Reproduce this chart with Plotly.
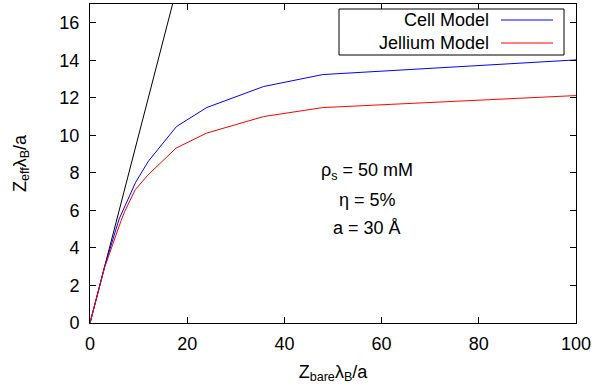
import plotly.graph_objects as go

# Data
x_ref = [0, 17]
y_ref = [0, 17]

x_cell = [0, 3, 6, 9.4, 12, 17.8, 24, 35.7, 47.9, 100]
y_cell = [0, 3.0, 5.55, 7.5, 8.62, 10.47, 11.48, 12.6, 13.24, 14.02]

x_jel = [0, 3, 6.4, 7.1, 9.3, 11.9, 17.7, 24, 35.7, 47.9, 100]
y_jel = [0, 2.95, 5.46, 5.92, 7.1, 7.88, 9.32, 10.12, 11.0, 11.48, 12.12]

legend_names = ["Cell Model", "Jellium Model"]
legend_colors = ["#0000ff", "#ff0000"]

annot_lines = ["ρ<sub>s</sub> = 50 mM", "η = 5%", "a = 30 Å"]
annot_y = [8.05, 6.55, 5.05]

FONT = "Liberation Sans"
FS = 18

fig = go.Figure()
fig.add_trace(go.Scatter(x=x_ref, y=y_ref, mode="lines",
                         line=dict(color="black", width=1), showlegend=False))
fig.add_trace(go.Scatter(x=x_cell, y=y_cell, mode="lines",
                         line=dict(color=legend_colors[0], width=1), showlegend=False))
fig.add_trace(go.Scatter(x=x_jel, y=y_jel, mode="lines",
                         line=dict(color=legend_colors[1], width=1), showlegend=False))

for t, yv in zip(annot_lines, annot_y):
    fig.add_annotation(x=57, y=yv, xref="x", yref="y", text=t, showarrow=False,
                       font=dict(size=FS, color="black", family=FONT),
                       xanchor="center", yanchor="middle")

# Manual legend (gnuplot style: text right-aligned, sample line on right)
W, H = 596, 390
L, R, T, B = 90, 20, 4, 67
pw, ph = W - L - R, H - T - B

def px(xp):
    return (xp - L) / pw

def py(yp):
    return 1 - (yp - T) / ph

fig.add_shape(type="rect", xref="paper", yref="paper",
              x0=px(339), x1=px(564), y0=py(55), y1=py(9),
              line=dict(color="black", width=1), fillcolor="white", layer="above")
for i, (nm, col) in enumerate(zip(legend_names, legend_colors)):
    yy = 20 + 23 * i
    fig.add_annotation(x=px(491), y=py(yy), xref="paper", yref="paper", text=nm,
                       showarrow=False, xanchor="right", yanchor="middle",
                       font=dict(size=FS, color="black", family=FONT))
    fig.add_shape(type="line", xref="paper", yref="paper",
                  x0=px(501), x1=px(553), y0=py(yy), y1=py(yy),
                  line=dict(color=col, width=1), layer="above")

axis_common = dict(showgrid=False, zeroline=False, showline=True, linecolor="black",
                   linewidth=1, mirror="allticks", ticks="inside", ticklen=6,
                   tickcolor="black", tickfont=dict(size=FS, color="black", family=FONT))

fig.update_xaxes(range=[0, 100], tickvals=[0, 20, 40, 60, 80, 100],
                 ticklabelstandoff=4,
                 title=dict(text="Z<sub>bare</sub>λ<sub>B</sub>/a", standoff=12,
                            font=dict(size=FS, color="black", family=FONT)),
                 **axis_common)
fig.update_yaxes(range=[0, 17], tickvals=list(range(0, 17, 2)),
                 ticklabelstandoff=6,
                 title=dict(text="Z<sub>eff</sub>λ<sub>B</sub>/a", standoff=28,
                            font=dict(size=FS, color="black", family=FONT)),
                 **axis_common)

fig.update_layout(width=W, height=H, margin=dict(l=L, r=R, t=T, b=B),
                  plot_bgcolor="white", paper_bgcolor="white",
                  font=dict(family=FONT, color="black"), showlegend=False)

fig.write_html("out.html")
